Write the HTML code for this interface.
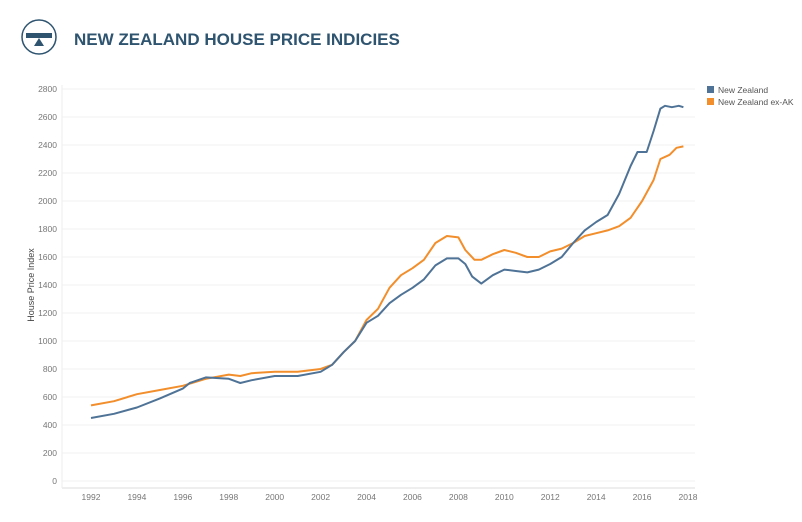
<!DOCTYPE html>
<html><head><meta charset="utf-8"><style>
body{margin:0;width:802px;height:517px;background:#fff;overflow:hidden;font-family:"Liberation Sans",sans-serif}
</style></head><body>
<svg width="802" height="517" xmlns="http://www.w3.org/2000/svg">
<g>
<circle cx="39" cy="37" r="17" fill="none" stroke="#2e5470" stroke-width="1.5"/>
<rect x="26" y="33" width="26" height="5" fill="#2e5470"/>
<polygon points="39,38 34,46 44,46" fill="#2e5470"/>
</g>
<text x="74" y="45" font-size="17" font-weight="bold" fill="#2e5470">NEW ZEALAND HOUSE PRICE INDICIES</text>
<g id="grid"></g>
<text transform="translate(34,285) rotate(-90)" text-anchor="middle" font-size="9" fill="#444">House Price Index</text>
<g id="series"></g>
<g>
<g><rect x="707" y="86" width="7" height="7" fill="#4f7396"/><text x="718" y="93" font-size="8.5" fill="#555">New Zealand</text></g>
<g><rect x="707" y="98" width="7" height="7" fill="#f28e2b"/><text x="718" y="105" font-size="8.5" fill="#555">New Zealand ex-AK</text></g>
</g>
</svg>
<script>
const yTicks=[0,200,400,600,800,1000,1200,1400,1600,1800,2000,2200,2400,2600,2800];
const xTicks=[1992,1994,1996,1998,2000,2002,2004,2006,2008,2010,2012,2014,2016,2018];
const nzYears=[1992,1993,1994,1995,1996,1996.3,1997,1998,1998.5,1999,2000,2001,2002,2002.5,2003,2003.5,2004,2004.5,2005,2005.5,2006,2006.5,2007,2007.5,2008,2008.3,2008.6,2009,2009.5,2010,2010.5,2011,2011.5,2012,2012.5,2013,2013.5,2014,2014.5,2015,2015.5,2015.8,2016.2,2016.5,2016.8,2017,2017.3,2017.6,2017.8];
const nzValues=[450,480,525,590,660,700,740,730,700,720,750,750,780,830,920,1000,1130,1180,1270,1330,1380,1440,1540,1590,1590,1550,1460,1410,1470,1510,1500,1490,1510,1550,1600,1700,1790,1850,1900,2050,2250,2350,2350,2500,2660,2680,2670,2680,2670];
const exYears=[1992,1993,1994,1995,1996,1997,1998,1998.5,1999,2000,2001,2002,2002.5,2003,2003.5,2004,2004.5,2005,2005.5,2006,2006.5,2007,2007.5,2008,2008.3,2008.7,2009,2009.5,2010,2010.5,2011,2011.5,2012,2012.5,2013,2013.5,2014,2014.5,2015,2015.5,2016,2016.5,2016.8,2017.2,2017.5,2017.8];
const exValues=[540,570,620,650,680,730,760,750,770,780,780,800,830,920,1000,1150,1230,1380,1470,1520,1580,1700,1750,1740,1650,1580,1580,1620,1650,1630,1600,1600,1640,1660,1700,1750,1770,1790,1820,1880,2000,2150,2300,2330,2380,2390];
const NS='http://www.w3.org/2000/svg';
const X=v=>91+(v-1992)*(597/26);
const Y=v=>481-v*0.14;
const grid=document.getElementById('grid');
yTicks.forEach(t=>{
 const l=document.createElementNS(NS,'line');
 l.setAttribute('x1',62);l.setAttribute('x2',695);l.setAttribute('y1',Y(t));l.setAttribute('y2',Y(t));
 l.setAttribute('stroke','#f0f0f0');
 
 
 grid.appendChild(l);
 const tx=document.createElementNS(NS,'text');
 tx.setAttribute('x',57);tx.setAttribute('y',Y(t)+3);tx.setAttribute('text-anchor','end');
 tx.setAttribute('font-size','8.5');tx.setAttribute('fill','#777');tx.textContent=t;
 
 
 grid.appendChild(tx);
});
const ax=document.createElementNS(NS,'line');
ax.setAttribute('x1',62);ax.setAttribute('x2',695);ax.setAttribute('y1',488);ax.setAttribute('y2',488);ax.setAttribute('stroke','#ddd');


grid.appendChild(ax);
const ay=document.createElementNS(NS,'line');
ay.setAttribute('x1',62);ay.setAttribute('x2',62);ay.setAttribute('y1',85);ay.setAttribute('y2',488);ay.setAttribute('stroke','#eee');


grid.appendChild(ay);
xTicks.forEach(t=>{
 const tx=document.createElementNS(NS,'text');
 tx.setAttribute('x',X(t));tx.setAttribute('y',500);tx.setAttribute('text-anchor','middle');
 tx.setAttribute('font-size','8.5');tx.setAttribute('fill','#777');tx.textContent=t;
 
 
 grid.appendChild(tx);
});
const ser=document.getElementById('series');
function line(xs,vs,color,name){
 const p=document.createElementNS(NS,'polyline');
 p.setAttribute('points',xs.map((x,i)=>X(x).toFixed(1)+','+Y(vs[i]).toFixed(1)).join(' '));
 p.setAttribute('fill','none');p.setAttribute('stroke',color);p.setAttribute('stroke-width','2');p.setAttribute('stroke-linejoin','round');
 
 
 ser.appendChild(p);
}
line(exYears,exValues,'#f28e2b','series-nz-ex-ak');
line(nzYears,nzValues,'#4f7396','series-new-zealand');
</script>
</body></html>
